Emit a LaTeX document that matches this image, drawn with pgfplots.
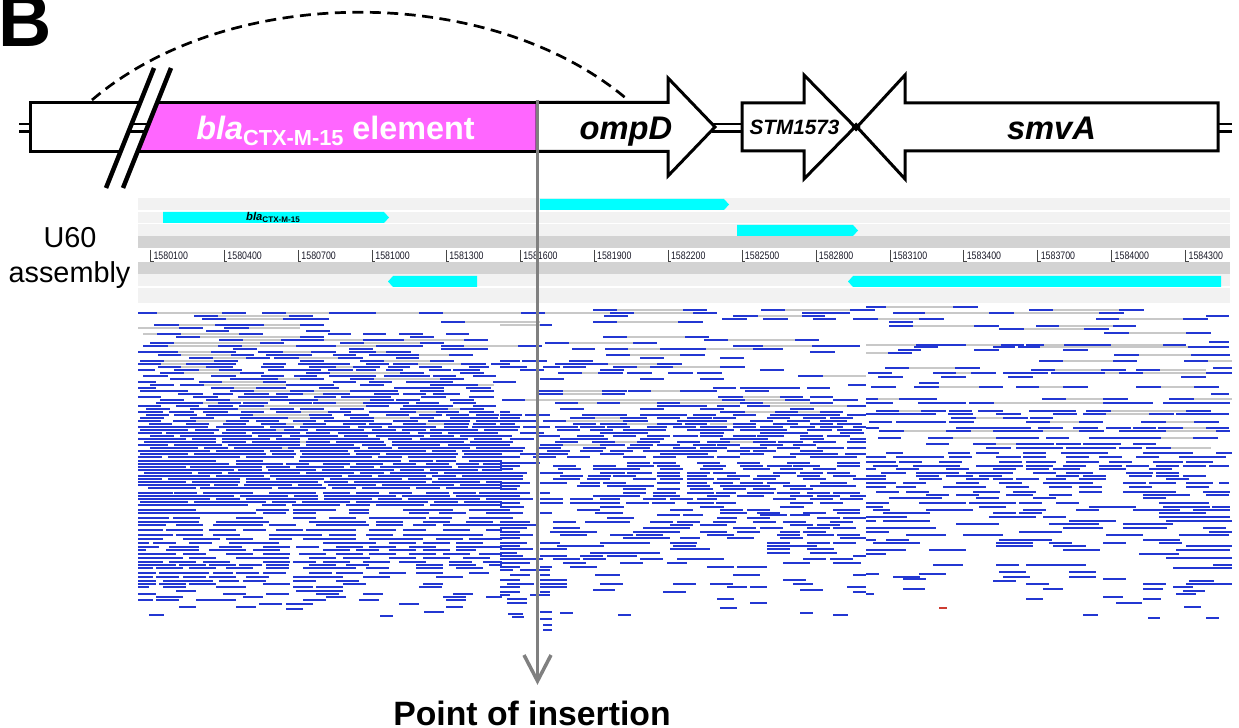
\documentclass[border=0pt]{standalone}
\usepackage{fontspec}
\setmainfont{Liberation Sans}
\usepackage{pgfplots}
\usepackage{pgfplotstable}
\pgfplotsset{compat=1.18}
\definecolor{readblue}{RGB}{35,55,210}
\definecolor{pairgray}{RGB}{200,200,200}
\definecolor{trk}{RGB}{242,242,242}
\definecolor{trkd}{RGB}{211,211,211}
\definecolor{feat}{RGB}{0,255,255}
\definecolor{mag}{RGB}{255,102,255}
\definecolor{insg}{RGB}{128,128,128}
\definecolor{tickc}{RGB}{70,70,70}
\definecolor{lblc}{RGB}{25,25,40}
\definecolor{redread}{RGB}{205,60,50}

% aligned reads: start x (pixel), row y (pixel), length (pixel)
\pgfplotstableread[row sep=\\]{
x y l\\
138 313 19\\222 313 24\\262 313 24\\329 313 47\\419 313 24\\
194 316 24\\289 316 24\\
202 319 24\\283 319 46\\
441 322 24\\
154 325 25\\215 325 49\\300 325 24\\
179 328 24\\224 328 25\\
206 331 23\\306 331 24\\
157 334 24\\239 334 24\\328 334 23\\363 334 23\\399 334 24\\446 334 23\\
176 337 24\\300 337 24\\410 337 24\\
219 340 24\\281 340 43\\363 340 41\\464 340 24\\
150 343 24\\260 343 24\\340 343 24\\420 343 24\\
143 346 25\\218 346 24\\296 346 40\\376 346 47\\441 346 23\\
233 349 24\\349 349 24\\441 349 47\\
138 352 40\\211 352 25\\258 352 25\\311 352 25\\349 352 27\\386 352 25\\
158 355 23\\231 355 23\\266 355 46\\333 355 23\\369 355 50\\449 355 24\\
189 358 24\\246 358 24\\274 358 25\\338 358 25\\396 358 23\\
140 361 24\\214 361 24\\300 361 24\\360 361 24\\430 361 24\\
138 364 23\\186 364 50\\263 364 23\\298 364 52\\366 364 23\\393 364 25\\461 364 25\\491 364 11\\
158 367 23\\206 367 27\\261 367 23\\309 367 27\\353 367 27\\388 367 22\\419 367 23\\469 367 20\\
138 370 17\\174 370 25\\219 370 23\\268 370 53\\328 370 25\\356 370 20\\386 370 17\\429 370 22\\453 370 27\\
160 373 24\\240 373 24\\306 373 24\\400 373 24\\460 373 24\\
143 376 25\\211 376 25\\261 376 23\\294 376 23\\329 376 47\\384 376 23\\407 376 23\\433 376 23\\473 376 23\\
170 379 24\\230 379 48\\300 379 24\\350 379 24\\440 379 24\\
138 382 18\\199 382 23\\263 382 23\\333 382 23\\369 382 23\\406 382 47\\493 382 9\\
150 385 24\\180 385 24\\286 385 48\\360 385 24\\430 385 48\\
138 388 18\\211 388 23\\256 388 30\\319 388 20\\394 388 50\\466 388 25\\
140 391 48\\230 391 24\\290 391 24\\350 391 48\\420 391 24\\470 391 24\\
178 394 25\\213 394 20\\244 394 25\\276 394 27\\323 394 27\\374 394 25\\403 394 23\\433 394 27\\
138 397 23\\193 397 25\\238 397 50\\314 397 22\\341 397 50\\421 397 25\\469 397 25\\
160 400 24\\206 400 24\\270 400 48\\370 400 24\\396 400 24\\450 400 24\\
156 403 47\\218 403 23\\243 403 25\\289 403 23\\313 403 23\\363 403 23\\386 403 23\\416 403 23\\453 403 23\\
138 406 23\\176 406 23\\208 406 25\\239 406 25\\366 406 23\\403 406 25\\428 406 25\\473 406 23\\
146 409 24\\190 409 48\\270 409 24\\300 409 24\\340 409 24\\400 409 48\\460 409 24\\
138 412 25\\169 412 25\\203 412 25\\241 412 23\\276 412 25\\328 412 23\\369 412 47\\436 412 23\\469 412 25\\
146 415 23\\174 415 23\\206 415 47\\309 415 23\\344 415 25\\386 415 23\\419 415 23\\446 415 23\\476 415 23\\
140 418 24\\190 418 24\\240 418 48\\310 418 24\\350 418 24\\410 418 24\\450 418 48\\
138 421 23\\173 421 23\\226 421 23\\256 421 23\\293 421 23\\324 421 50\\393 421 25\\428 421 42\\476 421 25\\
149 424 23\\186 424 23\\223 424 23\\261 424 25\\303 424 23\\343 424 23\\369 424 23\\403 424 23\\444 424 25\\473 424 23\\
138 427 70\\216 427 48\\270 427 24\\300 427 50\\358 427 24\\388 427 48\\444 427 24\\472 427 30\\
140 430 48\\195 430 24\\226 430 50\\284 430 24\\316 430 48\\372 430 24\\402 430 24\\430 430 48\\484 430 18\\
138 433 24\\166 433 48\\222 433 24\\252 433 48\\306 433 24\\338 433 72\\418 433 24\\448 433 50\\
150 436 24\\180 436 72\\258 436 24\\290 436 48\\344 436 24\\376 436 48\\430 436 24\\460 436 42\\
138 439 48\\192 439 24\\222 439 48\\276 439 24\\308 439 72\\388 439 24\\420 439 48\\474 439 28\\
144 442 72\\222 442 24\\252 442 48\\306 442 24\\336 442 48\\392 442 72\\470 442 32\\
138 445 30\\174 445 48\\228 445 72\\306 445 48\\362 445 24\\392 445 48\\448 445 54\\
150 448 48\\204 448 24\\234 448 48\\288 448 72\\368 448 24\\398 448 72\\476 448 26\\
138 451 72\\216 451 48\\270 451 24\\300 451 48\\354 451 72\\432 451 24\\462 451 40\\
140 454 48\\194 454 72\\272 454 24\\302 454 48\\356 454 24\\386 454 72\\464 454 38\\
138 457 24\\168 457 72\\246 457 48\\300 457 72\\378 457 24\\408 457 48\\462 457 40\\
138 461 78\\236 461 27\\299 461 102\\409 461 24\\436 461 20\\469 461 33\\
138 464 91\\236 464 47\\286 464 23\\323 464 27\\356 464 27\\393 464 23\\426 464 23\\456 464 23\\483 464 19\\
138 467 48\\190 467 72\\266 467 24\\296 467 48\\350 467 24\\380 467 72\\458 467 44\\
138 470 96\\238 470 24\\268 470 48\\322 470 72\\400 470 24\\430 470 48\\482 470 20\\
144 473 48\\198 473 24\\228 473 72\\306 473 48\\360 473 24\\390 473 48\\444 473 58\\
138 476 72\\216 476 48\\270 476 72\\348 476 24\\378 476 48\\432 476 24\\462 476 40\\
138 479 24\\168 479 72\\246 479 24\\276 479 48\\330 479 72\\408 479 24\\438 479 64\\
138 482 48\\192 482 48\\246 482 72\\324 482 24\\354 482 72\\432 482 48\\486 482 16\\
138 485 72\\214 485 24\\244 485 48\\298 485 24\\328 485 48\\382 485 72\\460 485 42\\
148 488 48\\200 488 72\\278 488 48\\332 488 24\\362 488 48\\416 488 24\\446 488 56\\
138 493 35\\174 493 23\\203 493 50\\269 493 47\\323 493 27\\356 493 23\\389 493 23\\426 493 23\\453 493 23\\479 493 23\\
138 496 96\\240 496 48\\294 496 24\\324 496 72\\402 496 48\\456 496 46\\
138 499 72\\216 499 24\\246 499 72\\324 499 48\\378 499 24\\408 499 72\\486 499 16\\
140 502 48\\194 502 72\\272 502 24\\302 502 48\\356 502 72\\434 502 24\\464 502 38\\
138 505 110\\262 505 24\\292 505 48\\346 505 24\\376 505 48\\430 505 72\\
138 510 58\\256 510 33\\293 510 43\\349 510 20\\403 510 50\\469 510 33\\
138 513 118\\263 513 23\\293 513 23\\349 513 20\\409 513 20\\439 513 27\\486 513 16\\
138 518 31\\173 518 27\\236 518 27\\293 518 23\\329 518 27\\369 518 57\\429 518 23\\469 518 33\\
138 522 61\\216 522 53\\309 522 57\\376 522 27\\423 522 27\\466 522 27\\
138 525 28\\176 525 27\\213 525 50\\269 525 27\\316 525 53\\376 525 27\\413 525 23\\443 525 59\\
138 530 25\\166 530 37\\209 530 27\\243 530 23\\276 530 27\\306 530 50\\369 530 27\\403 530 23\\443 530 27\\486 530 16\\
138 535 35\\176 535 27\\213 535 27\\269 535 53\\329 535 27\\366 535 27\\403 535 80\\
138 539 25\\183 539 37\\226 539 27\\269 539 23\\303 539 53\\369 539 54\\436 539 27\\469 539 33\\
138 543 11\\153 543 23\\189 543 23\\229 543 50\\323 543 53\\389 543 27\\423 543 27\\456 543 27\\
138 547 21\\169 547 30\\219 547 23\\263 547 27\\296 547 23\\336 547 27\\369 547 27\\409 547 27\\456 547 46\\
138 550 8\\166 550 33\\209 550 37\\253 550 27\\323 550 27\\356 550 23\\389 550 27\\423 550 27\\456 550 20\\
138 554 38\\183 554 23\\226 554 27\\263 554 27\\299 554 27\\336 554 27\\369 554 27\\409 554 27\\443 554 27\\479 554 23\\
138 558 45\\189 558 27\\236 558 53\\309 558 27\\343 558 27\\389 558 27\\423 558 27\\463 558 27\\
138 562 25\\169 562 27\\203 562 27\\263 562 27\\293 562 23\\323 562 27\\363 562 27\\399 562 27\\449 562 23\\483 562 19\\
138 565 38\\179 565 27\\209 565 27\\239 565 23\\266 565 23\\309 565 27\\346 565 23\\416 565 27\\449 565 27\\489 565 13\\
138 568 15\\156 568 27\\189 568 27\\226 568 27\\266 568 23\\303 568 53\\366 568 23\\416 568 27\\456 568 27\\
138 573 18\\159 573 50\\213 573 20\\236 573 23\\263 573 23\\309 573 23\\336 573 27\\379 573 27\\416 573 27\\469 573 20\\
138 577 15\\156 577 23\\183 577 23\\209 577 27\\246 577 23\\293 577 50\\363 577 27\\436 577 27\\
138 581 18\\163 581 50\\219 581 20\\243 581 23\\293 581 23\\336 581 23\\
138 584 18\\159 584 27\\189 584 27\\263 584 27\\343 584 23\\423 584 20\\
138 587 11\\163 587 23\\216 587 30\\293 587 20\\316 587 27\\419 587 23\\
176 591 20\\296 591 47\\
138 594 18\\223 594 23\\266 594 23\\316 594 23\\363 594 20\\453 594 20\\
156 597 27\\243 597 20\\326 597 20\\443 597 23\\486 597 16\\
138 600 15\\156 600 23\\196 600 40\\303 600 23\\359 600 20\\446 600 20\\
259 604 23\\286 604 27\\399 604 20\\
179 607 17\\236 607 20\\446 607 17\\
286 609 17\\
424 612 20\\
149 615 15\\380 616 13\\
593 310 24\\683 310 24\\761 310 24\\850 310 16\\
521 313 24\\610 313 24\\693 313 24\\802 313 48\\
604 316 24\\733 316 25\\802 316 23\\
722 319 25\\763 319 25\\813 319 23\\853 319 13\\
593 322 24\\678 322 25\\
540 325 12\\
603 337 24\\685 337 24\\
704 340 24\\795 340 24\\
545 343 24\\633 343 24\\
518 346 24\\733 346 30\\812 346 48\\
572 349 23\\605 349 23\\660 349 46\\753 349 30\\
810 352 25\\
606 355 24\\680 355 25\\
640 358 24\\720 358 24\\
500 361 20\\522 361 25\\569 361 24\\
500 364 10\\555 364 23\\578 364 30\\657 364 25\\
500 367 27\\543 367 17\\563 367 23\\613 367 24\\650 367 23\\720 367 25\\
520 370 24\\600 370 24\\760 370 24\\
558 373 24\\598 373 25\\627 373 25\\668 373 25\\697 373 25\\
798 376 25\\
540 379 24\\640 379 24\\700 379 24\\
500 382 16\\
848 385 18\\
713 388 23\\740 388 60\\807 388 23\\
539 391 24\\602 391 25\\628 391 23\\680 391 37\\745 391 24\\
539 394 24\\602 394 23\\
718 397 25\\780 397 23\\810 397 23\\
502 400 23\\722 400 23\\785 400 25\\833 400 25\\
555 403 23\\597 403 23\\657 403 23\\740 403 23\\810 403 23\\
657 406 50\\717 406 23\\747 406 23\\847 406 19\\
560 409 24\\640 409 24\\700 409 24\\790 409 24\\
500 412 10\\720 412 25\\775 412 23\\820 412 23\\
500 415 22\\525 415 25\\582 415 45\\640 415 47\\693 415 23\\733 415 23\\770 415 70\\847 415 19\\
500 418 20\\570 418 25\\620 418 27\\657 418 23\\687 418 25\\713 418 23\\767 418 23\\803 418 23\\830 418 23\\
500 421 37\\543 421 23\\623 421 25\\677 421 23\\700 421 27\\750 421 23\\787 421 23\\820 421 27\\
500 424 15\\573 424 23\\600 424 27\\657 424 25\\685 424 22\\733 424 23\\773 424 25\\810 424 23\\837 424 25\\
500 427 20\\523 427 27\\555 427 23\\580 427 25\\607 427 23\\647 427 20\\673 427 23\\700 427 27\\733 427 23\\760 427 23\\790 427 25\\820 427 23\\853 427 13\\
500 430 18\\557 430 23\\590 430 23\\623 430 43\\687 430 47\\740 430 47\\807 430 25\\837 430 25\\
520 433 24\\600 433 48\\700 433 24\\760 433 48\\840 433 24\\
500 436 12\\537 436 23\\577 436 27\\613 436 23\\647 436 23\\673 436 25\\700 436 23\\733 436 23\\757 436 27\\800 436 23\\827 436 23\\
510 439 24\\560 439 48\\640 439 24\\720 439 48\\800 439 24\\850 439 16\\
500 442 13\\555 442 23\\592 442 23\\637 442 23\\677 442 23\\707 442 23\\753 442 23\\778 442 25\\813 442 23\\847 442 19\\
500 445 10\\540 445 23\\600 445 25\\630 445 23\\657 445 23\\693 445 23\\717 445 23\\760 445 23\\793 445 23\\
500 448 25\\538 448 23\\583 448 23\\627 448 23\\673 448 23\\700 448 27\\740 448 27\\777 448 23\\817 448 27\\847 448 19\\
500 451 23\\547 451 23\\580 451 23\\610 451 23\\643 451 47\\690 451 27\\727 451 23\\753 451 23\\800 451 23\\
520 454 48\\600 454 24\\660 454 48\\740 454 24\\790 454 48\\845 454 21\\
500 457 20\\533 457 23\\567 457 23\\623 457 23\\653 457 23\\687 457 27\\717 457 23\\773 457 23\\810 457 47\\
500 463 40\\627 463 23\\653 463 23\\697 463 23\\737 463 23\\787 463 23\\837 463 23\\
500 466 20\\553 466 23\\593 466 23\\627 466 27\\657 466 23\\703 466 23\\740 466 23\\767 466 25\\793 466 27\\837 466 23\\
500 469 13\\558 469 23\\593 469 47\\660 469 23\\700 469 23\\743 469 27\\780 469 23\\813 469 23\\
500 473 27\\540 473 23\\600 473 25\\627 473 25\\657 473 23\\687 473 23\\713 473 23\\773 473 23\\800 473 23\\827 473 23\\
500 476 23\\560 476 23\\588 476 23\\613 476 23\\657 476 23\\687 476 20\\727 476 23\\757 476 23\\797 476 23\\833 476 23\\
500 479 23\\553 479 27\\587 479 23\\633 479 23\\660 479 23\\687 479 27\\717 479 23\\753 479 23\\803 479 23\\853 479 13\\
500 483 30\\540 483 27\\580 483 20\\603 483 23\\657 483 23\\687 483 20\\713 483 20\\740 483 23\\767 483 23\\820 483 27\\
500 486 20\\577 486 23\\607 486 47\\687 486 23\\720 486 23\\743 486 27\\783 486 23\\810 486 23\\833 486 23\\
500 489 17\\623 489 23\\657 489 23\\690 489 23\\723 489 23\\753 489 23\\790 489 23\\
500 493 30\\540 493 10\\623 493 23\\653 493 23\\687 493 27\\716 493 20\\747 493 27\\777 493 23\\807 493 23\\833 493 27\\
500 496 20\\593 496 47\\653 496 27\\707 496 23\\737 496 27\\790 496 23\\817 496 23\\850 496 16\\
500 499 33\\540 499 23\\570 499 23\\600 499 20\\643 499 23\\670 499 23\\697 499 20\\773 499 23\\810 499 23\\840 499 23\\
500 503 20\\540 503 23\\570 503 50\\626 503 23\\652 503 23\\687 503 27\\716 503 20\\790 503 23\\820 503 23\\
500 507 24\\600 507 24\\700 507 24\\780 507 24\\
500 510 10\\577 510 23\\670 510 23\\720 510 23\\747 510 23\\833 510 27\\
500 513 23\\540 513 12\\595 513 28\\720 513 27\\757 513 23\\803 513 23\\837 513 23\\
657 515 23\\683 515 20\\760 515 27\\790 515 20\\
500 518 13\\607 518 27\\717 518 20\\747 518 23\\817 518 23\\843 518 23\\
500 522 30\\553 522 23\\585 522 45\\650 522 23\\677 522 23\\713 522 23\\753 522 23\\783 522 23\\830 522 23\\
500 525 37\\670 525 23\\700 525 27\\790 525 23\\817 525 23\\
500 528 27\\553 528 27\\643 528 47\\733 528 23\\760 528 23\\807 528 23\\833 528 23\\
500 532 20\\550 532 47\\633 532 47\\700 532 27\\737 532 23\\780 532 20\\803 532 23\\
500 535 33\\560 535 27\\610 535 23\\636 535 27\\707 535 27\\777 535 23\\807 535 27\\837 535 23\\
500 538 20\\623 538 47\\680 538 20\\727 538 27\\780 538 23\\840 538 26\\
500 543 27\\540 543 20\\600 543 50\\670 543 27\\767 543 23\\807 543 23\\833 543 23\\
500 546 20\\557 546 47\\673 546 23\\767 546 50\\
500 549 33\\540 549 27\\670 549 40\\767 549 23\\807 549 27\\
500 553 17\\590 553 70\\767 553 23\\810 553 27\\
500 556 23\\540 556 27\\580 556 23\\607 556 30\\853 556 13\\
500 559 43\\553 559 27\\583 559 23\\640 559 23\\677 559 47\\803 559 23\\830 559 23\\
500 563 30\\563 563 23\\620 563 23\\667 563 20\\783 563 27\\833 563 28\\
500 567 20\\540 567 12\\570 567 27\\707 567 27\\737 567 30\\
500 570 13\\520 570 30\\
510 575 20\\540 575 10\\595 575 25\\733 575 27\\853 575 13\\
500 580 20\\540 580 27\\783 580 23\\
507 584 27\\540 584 27\\600 584 23\\673 584 23\\710 584 23\\793 584 20\\
500 587 20\\540 587 27\\727 587 20\\750 587 17\\847 587 19\\
593 590 22\\800 590 23\\
500 592 20\\540 592 10\\663 592 23\\853 592 13\\
500 595 10\\530 595 20\\
507 599 20\\717 599 17\\
507 603 20\\750 603 17\\
720 608 17\\
540 612 12\\
508 614 15\\560 613 13\\800 613 13\\
618 615 13\\833 615 15\\
512 617 12\\540 619 12\\
543 625 9\\543 630 9\\
866 307 20\\953 307 25\\
866 310 9\\1029 310 24\\1119 310 25\\
893 313 32\\989 313 25\\1099 313 25\\
1206 316 23\\
866 319 12\\919 319 25\\1096 319 23\\1183 319 25\\
889 322 24\\
889 326 24\\974 326 25\\1036 326 23\\1113 326 23\\
999 329 25\\1084 329 25\\
1104 333 25\\1186 333 25\\
1209 342 20\\
916 345 30\\946 345 20\\1001 345 23\\1026 345 18\\1064 345 24\\1088 345 23\\1163 345 23\\
914 347 24\\993 347 22\\1018 347 22\\1188 347 23\\1211 347 18\\
898 350 23\\974 350 25\\1063 350 25\\
888 353 24\\
1114 355 25\\1191 355 24\\1215 355 15\\
1039 361 24\\1113 361 24\\1184 361 24\\
885 368 24\\955 368 25\\1213 368 19\\
1031 370 24\\1101 370 25\\1136 370 24\\
868 373 24\\933 373 23\\971 373 25\\1003 373 23\\1026 373 22\\1051 373 28\\1079 373 26\\1119 373 24\\1206 373 26\\
878 377 25\\941 377 25\\1008 377 25\\1181 377 25\\
919 383 20\\
871 387 25\\914 387 25\\979 387 24\\1016 387 23\\1063 387 25\\1136 387 25\\1194 387 25\\
1211 394 18\\
866 399 12\\899 399 38\\1042 399 24\\1103 399 25\\1169 399 25\\
866 403 27\\918 403 25\\943 403 23\\969 403 25\\1103 403 25\\1128 403 25\\1163 403 23\\1186 403 20\\1206 403 24\\
876 411 23\\921 411 25\\949 411 23\\978 411 25\\1029 411 24\\1053 411 23\\1086 411 25\\1186 411 25\\
866 414 70\\948 414 25\\996 414 25\\1053 414 24\\1083 414 23\\1149 414 25\\1176 414 27\\1203 414 26\\
951 418 25\\1003 418 25\\1030 418 23\\
869 422 23\\896 422 50\\949 422 25\\1026 422 24\\1079 422 24\\1141 422 25\\1194 422 25\\
866 428 13\\956 428 50\\1006 428 25\\1038 428 25\\1073 428 25\\1106 428 25\\1133 428 23\\1158 428 25\\1206 428 23\\
879 431 25\\946 431 25\\993 431 50\\1079 431 25\\1119 431 47\\1216 431 14\\
878 438 23\\928 438 25\\996 438 43\\1046 438 23\\1089 438 72\\1193 438 25\\
926 444 23\\973 444 23\\1016 444 38\\1056 444 25\\1083 444 38\\1133 444 23\\
986 448 25\\1016 448 47\\1066 448 50\\1119 448 23\\1146 448 25\\
886 453 17\\948 453 22\\976 453 23\\1023 453 23\\1061 453 47\\1143 453 50\\1216 453 16\\
866 457 20\\896 457 48\\949 457 23\\996 457 25\\1023 457 23\\1066 457 23\\1099 457 23\\1136 457 23\\1179 457 47\\
866 462 30\\899 462 23\\939 462 23\\999 462 23\\1026 462 30\\1066 462 33\\1109 462 23\\1153 462 30\\1186 462 27\\
873 466 25\\913 466 47\\976 466 47\\1026 466 27\\1063 466 23\\1099 466 23\\1126 466 23\\1156 466 23\\1183 466 23\\1209 466 20\\
866 469 10\\896 469 23\\946 469 23\\993 469 23\\1026 469 23\\1053 469 27\\1099 469 27\\1149 469 23\\
881 473 25\\916 473 43\\966 473 47\\1033 473 23\\1066 473 27\\1126 473 27\\1156 473 23\\
866 476 20\\916 476 23\\946 476 27\\979 476 23\\1056 476 23\\1083 476 23\\1129 476 23\\1156 476 23\\1183 476 23\\
866 479 20\\919 479 23\\966 479 23\\993 479 20\\1016 479 23\\1046 479 20\\1079 479 27\\1166 479 23\\
866 483 30\\903 483 23\\956 483 23\\999 483 23\\1043 483 50\\1123 483 23\\1149 483 27\\1186 483 27\\1219 483 10\\
866 487 20\\896 487 20\\943 487 43\\1006 487 23\\1049 487 23\\1079 487 23\\1129 487 23\\1186 487 23\\
876 492 23\\906 492 23\\973 492 27\\1013 492 23\\1079 492 23\\1123 492 53\\1203 492 27\\
926 495 23\\956 495 23\\1006 495 27\\1049 495 23\\1143 495 47\\1206 495 23\\
889 498 53\\976 498 23\\1033 498 23\\1143 498 23\\
866 503 23\\919 503 47\\969 503 47\\1019 503 23\\1056 503 23\\1159 503 50\\
866 507 17\\979 507 27\\1089 507 47\\1163 507 47\\1212 507 18\\
873 510 17\\926 510 47\\1023 510 23\\1076 510 23\\1133 510 47\\1193 510 37\\
883 513 47\\993 513 23\\1019 513 23\\1159 513 47\\
866 517 41\\989 517 47\\1043 517 23\\1159 517 71\\
866 521 10\\883 521 47\\1069 521 47\\1166 521 66\\
956 524 43\\1049 524 50\\1123 524 50\\
866 528 70\\1063 528 40\\1123 528 44\\1203 528 23\\
866 532 23\\1019 532 43\\1209 532 23\\
906 535 40\\963 535 40\\1106 535 37\\1179 535 50\\
866 540 10\\886 540 23\\999 540 53\\1143 540 37\\
873 543 47\\996 543 37\\1049 543 23\\1103 543 23\\1159 543 23\\
996 546 37\\1053 546 33\\1186 546 46\\
866 550 40\\929 550 37\\1063 550 37\\1176 550 54\\
866 554 20\\1139 554 40\\
1166 558 66\\
933 565 30\\996 565 23\\1026 565 60\\1213 565 19\\
1173 568 59\\
999 572 27\\1069 572 27\\
866 574 13\\919 574 27\\
893 577 27\\1003 577 27\\1069 577 27\\
903 579 23\\1103 579 23\\
993 581 23\\1189 581 25\\
1026 584 23\\1143 584 23\\1186 584 46\\
1173 587 20\\
903 589 22\\1043 589 20\\1143 589 20\\
1183 591 22\\
866 594 8\\1176 594 20\\
1103 597 20\\
1026 599 17\\1143 599 18\\
1116 603 26\\
1184 607 17\\
1083 615 15\\
1148 618 12\\1206 618 13\\
}\reads

% grey lines joining the two reads of a pair: start x, row y, length
\pgfplotstableread[row sep=\\]{
x y l\\
157 313 65\\286 313 43\\376 313 43\\443 313 78\\
218 316 71\\226 319 57\\465 322 75\\
179 325 36\\264 325 36\\138 328 41\\249 328 51\\
143 334 14\\181 334 58\\200 337 100\\
243 340 38\\324 340 39\\404 340 60\\
174 343 86\\364 343 56\\
168 346 50\\242 346 54\\336 346 40\\464 346 54\\
178 352 33\\283 352 28\\376 352 10\\
181 355 50\\419 355 30\\
213 358 33\\299 358 39\\
164 361 50\\384 361 46\\
161 364 25\\418 364 43\\
181 367 25\\336 367 17\\
199 370 20\\
184 373 56\\330 373 70\\
254 379 46\\374 379 66\\
222 382 41\\
204 385 82\\454 385 40\\
234 388 22\\
254 391 36\\314 391 36\\
300 394 23\\
230 400 40\\318 400 52\\
180 403 38\\336 403 27\\
262 406 104\\
214 409 56\\424 409 36\\
298 412 30\\392 412 44\\
229 415 80\\
264 418 46\\374 418 36\\
196 421 30\\
284 424 19\\426 424 18\\
250 430 34\\276 442 30\\254 448 34\\
617 310 66\\785 310 65\\
545 313 65\\634 313 59\\
758 316 44\\617 322 61\\500 325 40\\
627 337 58\\728 340 67\\569 343 64\\
763 346 49\\628 349 32\\706 349 47\\
630 355 50\\608 364 49\\
637 367 13\\673 367 47\\
582 373 16\\823 376 43\\
563 391 39\\651 391 29\\563 394 39\\
743 397 37\\
525 400 197\\745 400 40\\
578 403 19\\620 403 37\\680 403 60\\763 403 47\\
770 406 77\\
745 412 30\\798 412 22\\
595 418 25\\566 421 57\\
623 424 34\\710 424 23\\
615 442 22\\730 442 23\\
563 445 37\\
886 307 67\\1053 310 66\\925 313 64\\1014 313 85\\
878 319 41\\1119 319 64\\913 326 61\\1059 326 54\\
1024 329 60\\1129 333 57\\
866 345 50\\966 345 35\\1044 345 20\\1107 345 56\\
1040 347 148\\866 353 22\\1139 355 52\\
1063 361 50\\1208 361 24\\909 368 46\\
1055 370 46\\1160 370 46\\
956 373 15\\1105 373 14\\1143 373 63\\
939 387 40\\1039 387 24\\1161 387 33\\
878 399 21\\1066 399 37\\1194 399 38\\
994 403 109\\899 411 22\\1110 411 76\\
1106 414 43\\976 418 27\\
1050 422 29\\1166 422 28\\
1181 428 25\\
904 431 42\\971 431 22\\1043 431 36\\1166 431 50\\
953 438 43\\1161 438 32\\
996 444 20\\1171 448 40\\
}\pairs

\pgfplotstableread[row sep=\\]{
x y l\\
939 608 8\\
}\redreads

\tikzset{
  lbl/.style={anchor=base west, inner sep=0pt, xscale=0.81,
    font=\fontsize{3.1pt}{4pt}\selectfont, text=lblc},
  tk/.style={draw=tickc, line width=0.1mm},
  gene/.style={line width=0.3mm, line join=miter},
}

\begin{document}
\begin{tikzpicture}
\path[use as bounding box] (0,0) rectangle (12.39cm,7.28cm);
\clip (0,0) rectangle (12.39cm,7.28cm);
\begin{axis}[
  at={(0,0)}, anchor=south west,
  width=12.39cm, height=7.28cm, scale only axis,
  xmin=0, xmax=1239, ymin=0, ymax=728, y dir=reverse,
  hide axis, clip=false,
]
% ---- IGV track area
\fill[trk] (138,198) rectangle (1230,236.5);
\draw[white, line width=0.12mm] (138,211) -- (1230,211) (138,223.7) -- (1230,223.7);
\fill[trkd] (138,236.5) rectangle (1230,248.5);
\fill[trkd] (138,262) rectangle (1230,274);
\fill[trk] (138,274) rectangle (1230,303.5);
\draw[white, line width=0.12mm] (138,287) -- (1230,287);
% ---- annotated features
\fill[feat] (540,199) -- (724,199) -- (729,204.5) -- (724,210) -- (540,210) -- cycle;
\fill[feat] (163,212) -- (384,212) -- (389,217.5) -- (384,223) -- (163,223) -- cycle;
\fill[feat] (737,225) -- (853,225) -- (858,230.5) -- (853,236) -- (737,236) -- cycle;
\fill[feat] (393,276) -- (477,276) -- (477,287) -- (393,287) -- (388,281.5) -- cycle;
\fill[feat] (853,276) -- (1221,276) -- (1221,287) -- (853,287) -- (848,281.5) -- cycle;
\node[anchor=base, inner sep=0pt, font=\fontsize{3.2pt}{4pt}\selectfont\bfseries] at (273,220.3)
  {\textit{bla}\raisebox{-0.5pt}{\fontsize{2.3pt}{3pt}\selectfont CTX-M-15}};
% ---- ruler
\draw[tk] (150.7,250) -- (150.7,261.5) -- (153.5,261.5);       \node[lbl] at (153,259.5) {1580100};
\draw[tk] (224.6,250) -- (224.6,261.5) -- (227.4,261.5);       \node[lbl] at (226.9,259.5) {1580400};
\draw[tk] (298.6,250) -- (298.6,261.5) -- (301.4,261.5);       \node[lbl] at (300.9,259.5) {1580700};
\draw[tk] (372.5,250) -- (372.5,261.5) -- (375.3,261.5);       \node[lbl] at (374.8,259.5) {1581000};
\draw[tk] (446.4,250) -- (446.4,261.5) -- (449.2,261.5);       \node[lbl] at (448.7,259.5) {1581300};
\draw[tk] (520.4,250) -- (520.4,261.5) -- (523.2,261.5);       \node[lbl] at (522.7,259.5) {1581600};
\draw[tk] (594.3,250) -- (594.3,261.5) -- (597.1,261.5);       \node[lbl] at (596.6,259.5) {1581900};
\draw[tk] (668.2,250) -- (668.2,261.5) -- (671.0,261.5);       \node[lbl] at (670.5,259.5) {1582200};
\draw[tk] (742.1,250) -- (742.1,261.5) -- (744.9,261.5);       \node[lbl] at (744.4,259.5) {1582500};
\draw[tk] (816.1,250) -- (816.1,261.5) -- (818.9,261.5);       \node[lbl] at (818.4,259.5) {1582800};
\draw[tk] (890.0,250) -- (890.0,261.5) -- (892.8,261.5);       \node[lbl] at (892.3,259.5) {1583100};
\draw[tk] (963.9,250) -- (963.9,261.5) -- (966.7,261.5);       \node[lbl] at (966.2,259.5) {1583400};
\draw[tk] (1037.9,250) -- (1037.9,261.5) -- (1040.7,261.5);    \node[lbl] at (1040.2,259.5) {1583700};
\draw[tk] (1111.8,250) -- (1111.8,261.5) -- (1114.6,261.5);    \node[lbl] at (1114.1,259.5) {1584000};
\draw[tk] (1185.7,250) -- (1185.7,261.5) -- (1188.5,261.5);    \node[lbl] at (1188,259.5) {1584300};
% ---- reads
\addplot[draw=pairgray, line width=0.14mm, quiver={u=\thisrow{l}, v=0}] table[x=x, y=y] {\pairs};
\addplot[draw=readblue, line width=0.23mm, quiver={u=\thisrow{l}, v=0}] table[x=x, y=y] {\reads};
\addplot[draw=redread, line width=0.23mm, quiver={u=\thisrow{l}, v=0}] table[x=x, y=y] {\redreads};
% ---- dashed arc
\draw[line width=0.27mm, dash pattern=on 1.1mm off 0.65mm] (92,100) .. controls (229,-17) and (491,-17) .. (628,100);
% ---- gene map
\draw[line width=0.25mm] (19,124) -- (32,124) (19,131.5) -- (32,131.5);
\draw[line width=0.25mm] (120,124) -- (160,124) (120,131.5) -- (160,131.5);
\draw[line width=0.25mm] (712,124) -- (744,124) (712,131.5) -- (744,131.5);
\draw[line width=0.25mm] (1216,124) -- (1232,124) (1216,131.5) -- (1232,131.5);
\fill[white] (30,102.5) -- (140.2,102.5) -- (120.6,151.5) -- (30,151.5) -- cycle;
\draw[gene] (140.2,102.5) -- (30,102.5) -- (30,151.5) -- (120.6,151.5);
\fill[mag] (157.2,102.5) -- (537,102.5) -- (537,151.5) -- (137.6,151.5) -- cycle;
\draw[gene] (157.2,102.5) -- (537,102.5) (137.6,151.5) -- (537,151.5);
\filldraw[gene, fill=white] (537,102.5) -- (668,102.5) -- (668,78) -- (715,127) -- (668,176) -- (668,151.5) -- (537,151.5) -- cycle;
\filldraw[gene, fill=white] (742,103) -- (804,103) -- (804,75) -- (855,127) -- (804,179) -- (804,151) -- (742,151) -- cycle;
\filldraw[gene, fill=white] (857,127) -- (905,75) -- (905,103) -- (1218,103) -- (1218,151) -- (905,151) -- (905,179) -- cycle;
\fill (851.5,127) -- (856,122.5) -- (860.5,127) -- (856,131.5) -- cycle;
\draw[line width=0.45mm] (154,68) -- (106,188);
\draw[line width=0.45mm] (171,68) -- (123,188);
\node[anchor=base, inner sep=0pt, text=white, font=\fontsize{9.2pt}{11pt}\selectfont\bfseries] at (335.5,140)
  {\textit{bla}\raisebox{-1.7pt}{\fontsize{6.2pt}{7pt}\selectfont CTX-M-15} element};
\node[anchor=base, inner sep=0pt, font=\fontsize{9.3pt}{11pt}\selectfont\bfseries\itshape] at (626,140) {ompD};
\node[anchor=base, inner sep=0pt, font=\fontsize{5.9pt}{7pt}\selectfont\bfseries\itshape] at (794.5,135) {STM1573};
\node[anchor=base, inner sep=0pt, font=\fontsize{9.3pt}{11pt}\selectfont\bfseries\itshape] at (1051.5,140) {smvA};
% ---- point of insertion
\draw[insg, line width=0.35mm] (537.5,100) -- (537.5,678);
\draw[insg, line width=0.35mm, line join=miter] (524,655) -- (537.5,681) -- (551,655);
\node[anchor=base, inner sep=0pt, font=\fontsize{9.6pt}{11pt}\selectfont\bfseries] at (532,725) {Point of insertion};
% ---- side labels
\node[anchor=base, inner sep=0pt, font=\fontsize{8.2pt}{10pt}\selectfont] at (70,248) {U60};
\node[anchor=base, inner sep=0pt, font=\fontsize{8.2pt}{10pt}\selectfont] at (69.5,283) {assembly};
\node[anchor=base west, inner sep=0pt, font=\fontsize{21pt}{24pt}\selectfont\bfseries] at (-2,47) {B};
\end{axis}
\end{tikzpicture}
\end{document}
